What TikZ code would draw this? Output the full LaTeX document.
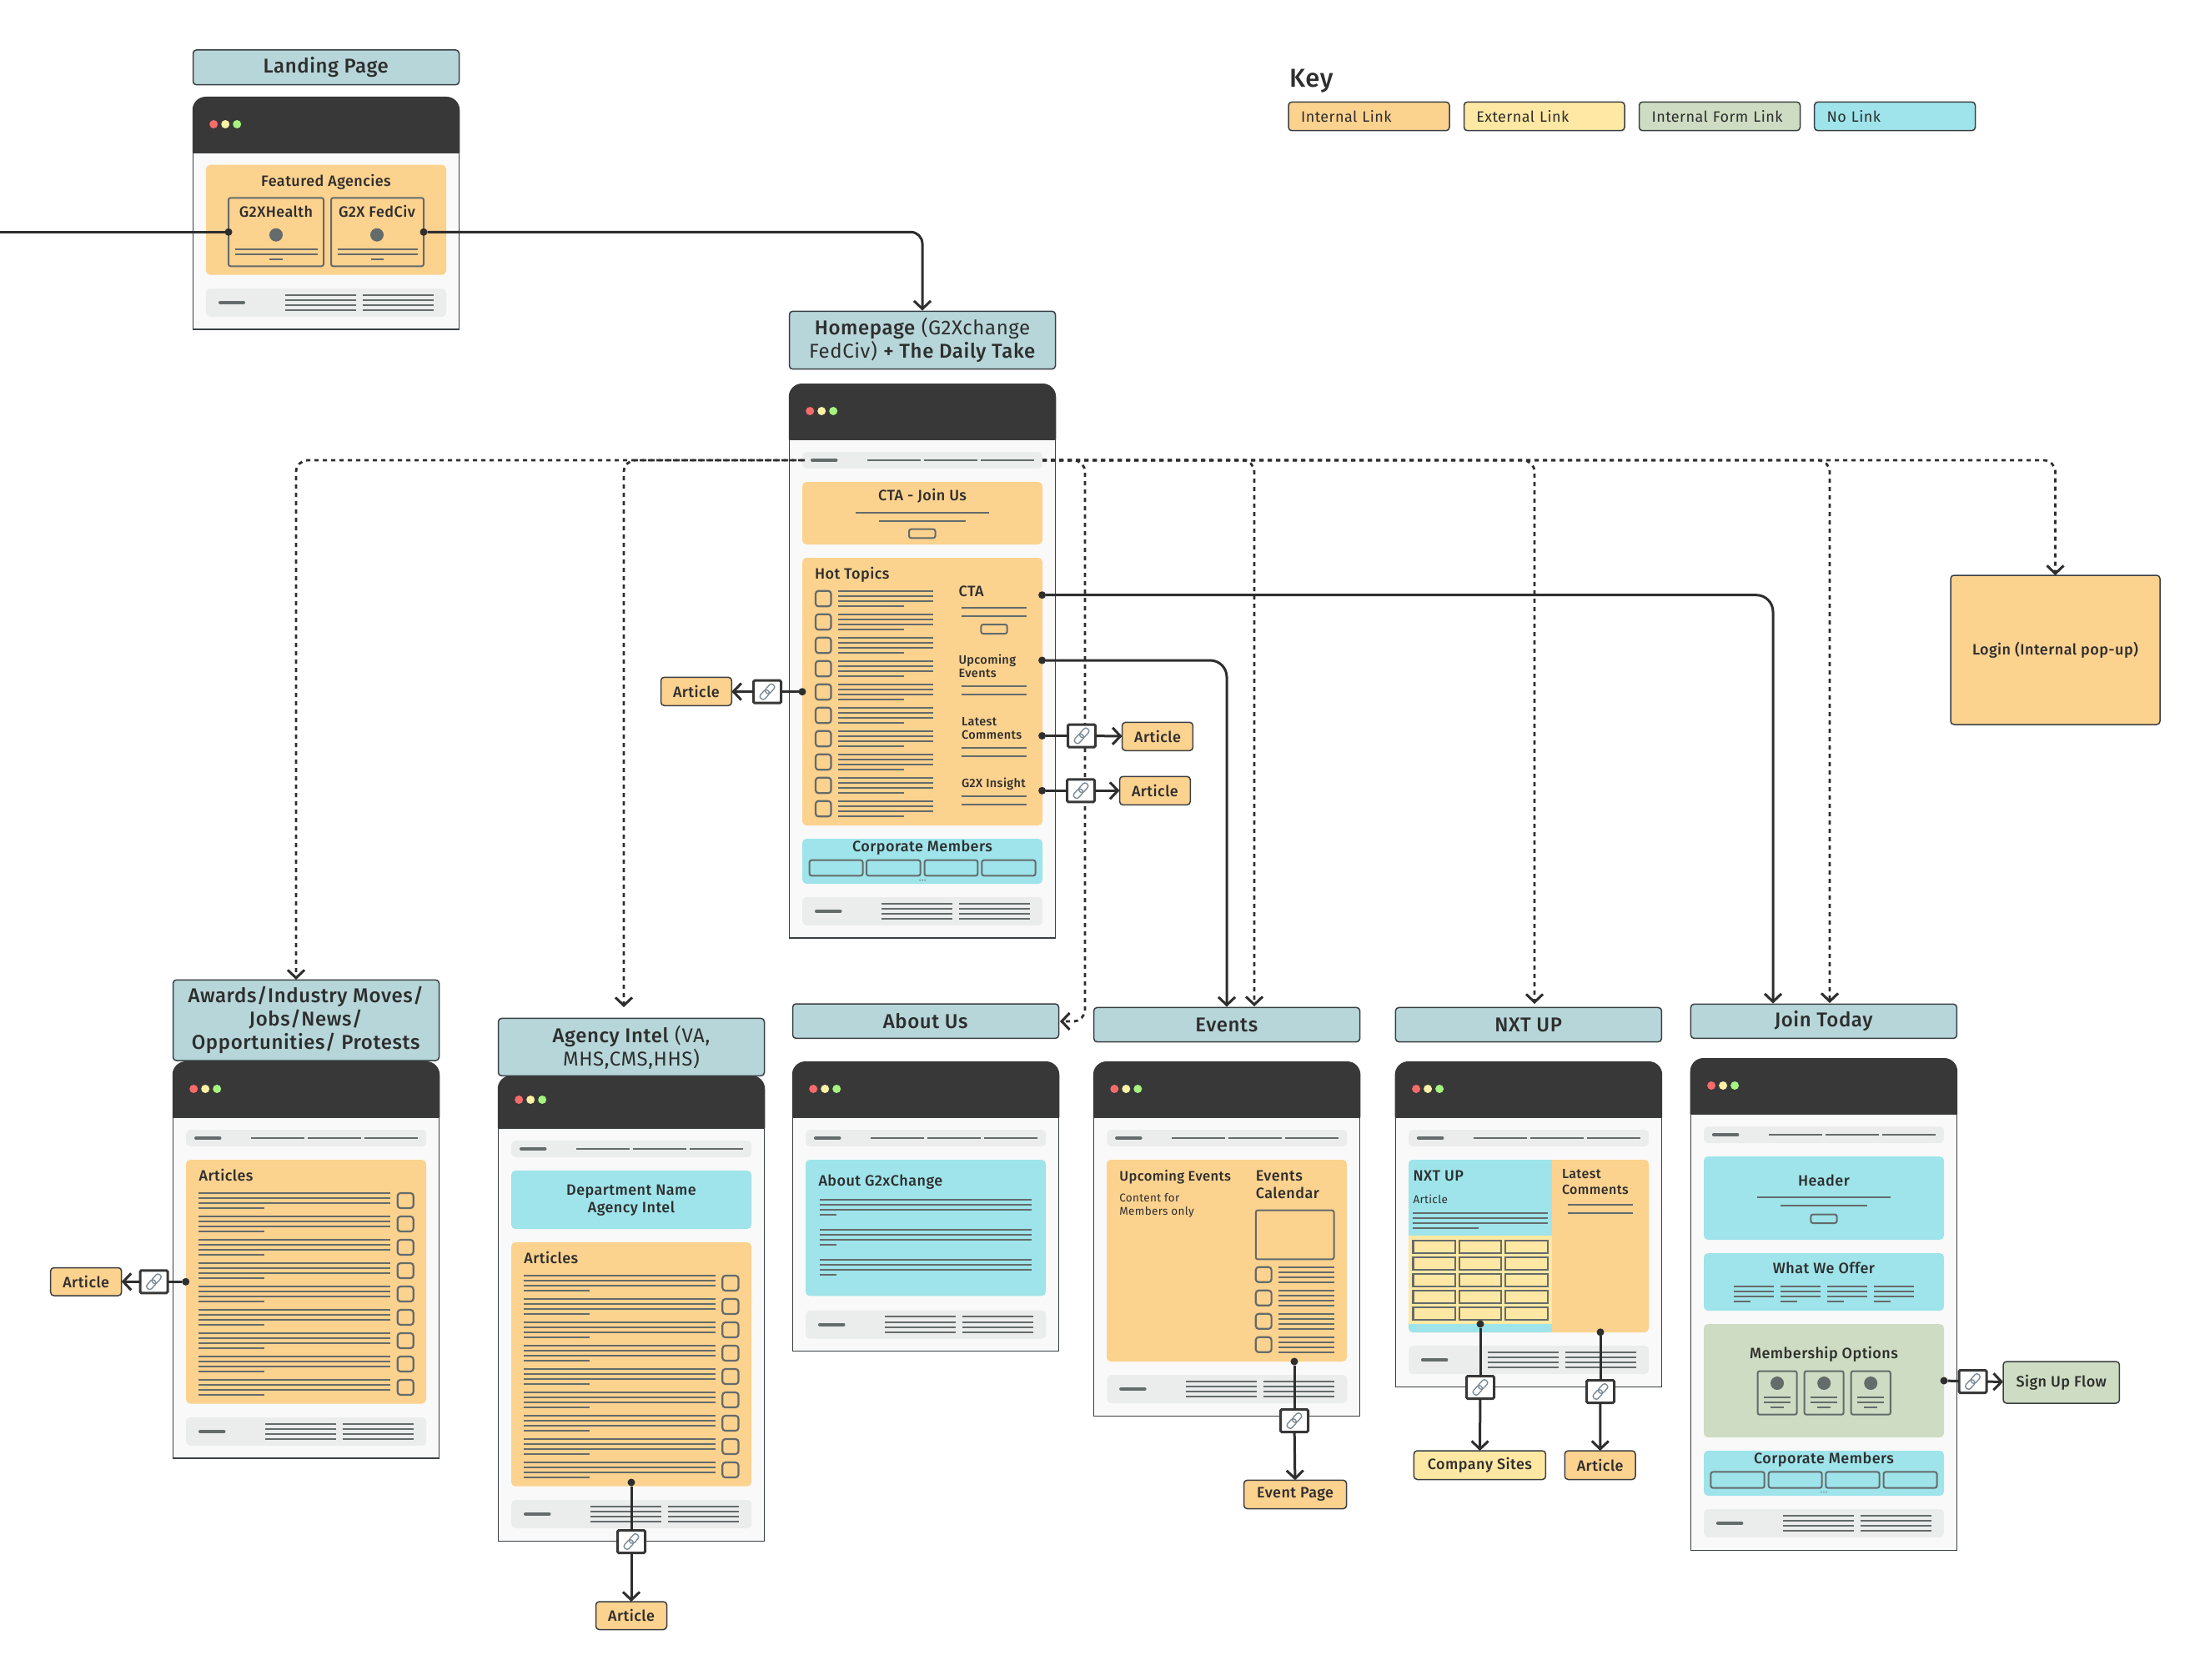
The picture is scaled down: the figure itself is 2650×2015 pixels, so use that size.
\documentclass[tikz,border=0pt]{standalone}
\usepackage{fontspec}
\setmainfont{Fira Sans}[BoldFont={Fira Sans Medium},LetterSpace=2.5]
\usetikzlibrary{arrows.meta}
\definecolor{teal}{HTML}{B7D6D9}
\definecolor{orng}{HTML}{FCD28F}
\definecolor{yelw}{HTML}{FFE8A3}
\definecolor{grn}{HTML}{CDDCC2}
\definecolor{cyn}{HTML}{9EE4EA}
\definecolor{drk}{HTML}{383838}
\definecolor{bod}{HTML}{F9F9F9}
\definecolor{nav}{HTML}{EBEDEC}
\definecolor{lgr}{HTML}{646B6B}
\definecolor{txt}{HTML}{2E2E2E}
\definecolor{dotr}{HTML}{F96B6B}
\definecolor{doty}{HTML}{FCF0A6}
\definecolor{dotg}{HTML}{A6F47F}
\definecolor{edge}{HTML}{3A3F42}
\definecolor{chain}{HTML}{7C8B95}
\tikzset{
  bxb/.style={draw=edge,line width=1.5pt,rounded corners=4pt,inner sep=0pt,outer sep=0pt,text=txt,align=center},
  tbox/.style={bxb,fill=teal,font=\fontsize{24}{28}\selectfont},
  abox/.style={bxb,fill=orng,font=\fontsize{18}{20}\selectfont\bfseries},
  ybox/.style={bxb,fill=yelw,font=\fontsize{18}{20}\selectfont\bfseries},
  gbox/.style={bxb,fill=grn,font=\fontsize{18}{20}\selectfont\bfseries},
  cbox/.style={bxb,fill=cyn,font=\fontsize{18}{20}\selectfont\bfseries},
  keytext/.style={text width=163pt,align=left,font=\fontsize{18}{20}\selectfont},
  glin/.style={draw=lgr,line width=2pt},
  gbox2/.style={draw=lgr,line width=2pt,rounded corners=2.5pt},
  cbk/.style={draw=lgr,line width=2.2pt,rounded corners=3.5pt},
  lb/.style={inner sep=0pt,outer sep=0pt,text=txt,font=\fontsize{18}{20}\selectfont\bfseries,text height=1em,text depth=0em},
  lbsm/.style={lb,font=\fontsize{13.5}{18}\selectfont},
  lbxs/.style={lb,font=\fontsize{14.5}{18}\selectfont\bfseries},
  lbm/.style={lb,font=\fontsize{16}{18}\selectfont\bfseries},
  dotn/.style={circle,fill=txt,inner sep=0pt,outer sep=0pt,minimum size=9pt},
  conn/.style={draw=txt,line width=3pt},
  barb/.style={-{Straight Barb[length=9.5pt,width=20pt,line width=3pt]}},
  arr/.style={conn,barb},
  dlink/.style={draw=txt,line width=2.8pt,dash pattern=on 5pt off 5pt,rounded corners=14pt,barb},
  linkbox/.style={draw=drk,fill=white,line width=3pt,rounded corners=1.5pt,inner sep=0pt,outer sep=0pt,minimum width=33pt,minimum height=27pt,
    path picture={\begin{scope}[shift={(path picture bounding box.center)},x={(0.67pt,0.74pt)},y={(-0.74pt,0.67pt)}]
      \draw[chain,line width=1.4pt,rounded corners=3pt] (-11,-3.6) -- (1.6,-3.6) -- (1.6,3.6) -- (-11,3.6) -- cycle;
      \draw[chain,line width=1.4pt,rounded corners=3pt] (-1.6,-3.6) -- (11,-3.6) -- (11,3.6) -- (-1.6,3.6) -- cycle;
      \end{scope}}},
}
\newcounter{lblc}
\newcommand{\bx}[7]{%
  \pgfmathsetmacro\cxx{(#3+#5)/2}\pgfmathsetmacro\cyy{(#4+#6)/2}%
  \pgfmathsetmacro\www{#5-#3}\pgfmathsetmacro\hhh{#6-#4}%
  \node[#2,minimum width=\www pt,minimum height=\hhh pt] (#1) at (\cxx,\cyy) {#7};}
\newcommand{\lbl}[5]{\stepcounter{lblc}\node[#4,anchor=#3] (t\thelblc) at (#1,#2) {#5};}
\newcommand{\panel}[5]{\fill[#1,rounded corners=5pt] (#2,#3) rectangle (#4,#5);}
\newcommand{\hl}[3]{\draw[glin] (#1,#3) -- (#2,#3);}
\newcommand{\browser}[4]{%
  \pgfmathsetmacro\rx{#1+319}\pgfmathsetmacro\dyy{#3-34}%
  \pgfmathsetmacro\da{#1+24.7}\pgfmathsetmacro\db{#1+38.7}\pgfmathsetmacro\dc{#1+52.7}%
  \draw[edge,fill=bod,line width=1.5pt] (#1,#3) rectangle (\rx,#4);
  \fill[drk] (#1-.75,#3) [rounded corners=16pt] -- (#1-.75,#2) -- (\rx+.75,#2) [sharp corners] -- (\rx+.75,#3) -- cycle;
  \fill[dotr] (\da,\dyy) circle (5pt);
  \fill[doty] (\db,\dyy) circle (5pt);
  \fill[dotg] (\dc,\dyy) circle (5pt);}
\newcommand{\navbar}[2]{%
  \begin{scope}[shift={(#1,#2)}]
  \fill[nav,rounded corners=5pt] (15.7,0) rectangle (303.7,20);
  \draw[lgr,line width=4pt,line cap=round] (27.5,10) -- (56,10);
  \hl{93.7}{157.7}{10}\hl{161.7}{225.7}{10}\hl{229.7}{293.7}{10}
  \end{scope}}
\newcommand{\footbar}[2]{%
  \begin{scope}[shift={(#1,#2)}]
  \fill[nav,rounded corners=5pt] (15.7,0) rectangle (303.7,34);
  \draw[lgr,line width=4pt,line cap=round] (32.5,17) -- (61,17);
  \foreach \q in {7.7,13.9,20,26.2}{\hl{110.7}{195.7}{\q}\hl{203.7}{288.7}{\q}}
  \end{scope}}
% four-line paragraph: x1 x2 xshort y
\newcommand{\para}[4]{%
  \pgfmathsetmacro\ya{#4+6}\pgfmathsetmacro\yb{#4+12}\pgfmathsetmacro\yc{#4+18}%
  \hl{#1}{#2}{#4}\hl{#1}{#2}{\ya}\hl{#1}{#2}{\yb}\hl{#1}{#3}{\yc}}
\newcommand{\dupe}[4]{%
  \pgfmathsetmacro\ya{#4+6}\pgfmathsetmacro\yb{#4+12}\pgfmathsetmacro\yc{#4+18}%
  \hl{#1}{#2}{#4}\hl{#1}{#2}{\ya}\hl{#1}{#2}{\yb}\hl{#1}{#2}{\yc}}
\begin{document}
\begin{tikzpicture}[x=1pt,y=-1pt]
\useasboundingbox (0,0) rectangle (2650,2015);
\fill[white] (0,0) rectangle (2650,2015);

% ---------- Landing page
\bx{tLand}{tbox}{231.5}{60}{550.5}{101.7}{\textbf{Landing Page}}
\browser{231.5}{116}{183}{395}
\panel{orng}{247}{197.7}{535}{329.7}
\lbl{391}{218}{center}{lb}{Featured Agencies}
\draw[gbox2,fill=orng] (274,237.3) rectangle (388,319.3);
\draw[gbox2,fill=orng] (397,237.3) rectangle (508,319.3);
\lbl{331}{255}{center}{lb}{G2XHealth}
\lbl{452}{255}{center}{lb}{G2X FedCiv}
\fill[lgr] (331,281.7) circle (8pt);
\fill[lgr] (452,281.7) circle (8pt);
\hl{281.6}{381}{298.7}\hl{281.6}{381}{305}\hl{323}{339}{311}
\hl{404.5}{500.5}{298.7}\hl{404.5}{500.5}{305}\hl{444.7}{460}{311}
\fill[nav,rounded corners=5pt] (247,346) rectangle (535,380);
\draw[lgr,line width=4pt,line cap=round] (264,362.7) -- (292,362.7);
\foreach \q in {353.7,360,366,372}{\hl{342}{427}{\q}\hl{435}{520}{\q}}

% ---------- Homepage
\bx{tHome}{tbox}{946.5}{373.3}{1265.5}{442.7}{\textbf{Homepage} (G2Xchange\\FedCiv) \textbf{+ The Daily Take}}
\browser{946.5}{460}{527}{1125}
\navbar{946.5}{542}
\panel{orng}{962}{578}{1250}{653}
\lbl{1106}{595}{center}{lb}{CTA - Join Us}
\hl{1026}{1186}{614.7}\hl{1054}{1158}{624.7}
\draw[gbox2] (1090,634.7) rectangle (1121.5,645.3);
\panel{orng}{962}{669}{1250}{990}
\lbl{977}{689}{west}{lb}{Hot Topics}
\foreach \r in {0,...,9}{
  \pgfmathsetmacro\ry{708.7+28*\r}
  \pgfmathsetmacro\rz{\ry+18.6}
  \draw[cbk] (978,\ry) rectangle (996.5,\rz);
  \para{1005}{1119}{1084}{\ry}
}
\lbl{1149.6}{710}{west}{lb}{CTA}
\hl{1153}{1231}{729.3}\hl{1153}{1231}{739.3}
\draw[gbox2] (1176.4,749) rectangle (1207.7,760);
\lbl{1149.6}{791.7}{west}{lbxs}{Upcoming}
\lbl{1149.6}{807}{west}{lbxs}{Events}
\hl{1153}{1231}{823}\hl{1153}{1231}{833}
\lbl{1153}{865}{west}{lbxs}{Latest}
\lbl{1153}{881}{west}{lbxs}{Comments}
\hl{1153}{1231}{897}\hl{1153}{1231}{907}
\lbl{1153}{939}{west}{lbxs}{G2X Insight}
\hl{1153}{1231}{955}\hl{1153}{1231}{965}
\panel{cyn}{962}{1006}{1250}{1060}
\lbl{1106}{1016.7}{center}{lb}{Corporate Members}
\foreach \a/\b in {970.6/1034.5,1039/1103.7,1108.6/1172.4,1177.3/1241.6}{\draw[gbox2] (\a,1031.7) rectangle (\b,1050.3);}
\foreach \a in {1103,1106,1109}{\fill[lgr] (\a,1055.7) circle (0.8pt);}
\footbar{946.5}{1076}

% ---------- Awards
\browser{207.5}{1273}{1340}{1749}
\bx{tAwa}{tbox}{207.5}{1175.3}{526.5}{1272}{\textbf{Awards/Industry Moves/}\\\textbf{Jobs/News/}\\\textbf{Opportunities/ Protests}}
\navbar{207.5}{1355}
\panel{orng}{223}{1391}{511}{1683.5}
\lbl{238.7}{1411}{west}{lb}{Articles}
\foreach \r in {0,...,8}{
  \pgfmathsetmacro\ry{1431+28*\r}
  \pgfmathsetmacro\rz{\ry+18}
  \para{238}{468}{317}{\ry}
  \draw[cbk] (476.7,\ry) rectangle (495.7,\rz);
}
\footbar{207.5}{1700}

% ---------- Agency Intel
\browser{597.5}{1290}{1353}{1848.7}
\bx{tAge}{tbox}{597.5}{1221.4}{916.5}{1290.3}{\textbf{Agency Intel} (VA,\\MHS,CMS,HHS)}
\navbar{597.5}{1368}
\panel{cyn}{613}{1404}{901}{1474}
\lbl{757}{1428}{center}{lb}{Department Name}
\lbl{757}{1449.7}{center}{lb}{Agency Intel}
\panel{orng}{613}{1490}{901}{1782.7}
\lbl{628.4}{1510}{west}{lb}{Articles}
\foreach \r in {0,...,8}{
  \pgfmathsetmacro\ry{1530+28*\r}
  \pgfmathsetmacro\rz{\ry+18}
  \para{628}{858}{707}{\ry}
  \draw[cbk] (866.3,\ry) rectangle (885.5,\rz);
}
\footbar{597.5}{1799}

% ---------- About Us
\bx{tAbo}{tbox}{950.5}{1204}{1269.5}{1245.4}{\textbf{About Us}}
\browser{950.5}{1273}{1340}{1620.5}
\navbar{950.5}{1355}
\panel{cyn}{966}{1391}{1254}{1554.4}
\lbl{981.5}{1417}{west}{lb}{About G2xChange}
\para{983}{1237}{1003}{1439}
\para{983}{1237}{1003}{1475}
\para{983}{1237}{1003}{1511}
\footbar{950.5}{1571.7}

% ---------- Events
\bx{tEve}{tbox}{1311.6}{1208.4}{1630.6}{1249.6}{\textbf{Events}}
\browser{1311.6}{1273}{1340}{1698.6}
\navbar{1311.6}{1355}
\panel{orng}{1327}{1391}{1615}{1633}
\lbl{1342.3}{1411}{west}{lb,font=\fontsize{16.5}{18}\selectfont\bfseries}{Upcoming Events}
\lbl{1342.3}{1436.5}{west}{lbsm}{Content for}
\lbl{1342.3}{1452.4}{west}{lbsm}{Members only}
\lbl{1505.8}{1411}{west}{lb}{Events}
\lbl{1505.8}{1432.4}{west}{lb}{Calendar}
\draw[gbox2] (1505.8,1451.6) rectangle (1599.5,1510.4);
\foreach \r in {0,...,3}{
  \pgfmathsetmacro\ry{1519.8+28*\r}
  \pgfmathsetmacro\rz{\ry+18}
  \draw[cbk] (1505.8,\ry) rectangle (1524.6,\rz);
  \dupe{1533}{1600}{1600}{\ry}
}
\footbar{1311.6}{1649}

% ---------- NXT UP
\bx{tNxt}{tbox}{1673.4}{1208.4}{1992.4}{1249.6}{\textbf{NXT UP}}
\browser{1673.4}{1273}{1340}{1663.5}
\navbar{1673.4}{1355}
\panel{orng}{1689}{1391}{1977}{1598}
\panel{cyn}{1689}{1391}{1861}{1598}
\fill[cyn] (1800,1391) rectangle (1861,1598);
\fill[orng] (1861,1391) rectangle (1870,1598);
\fill[yelw] (1689,1482) rectangle (1861,1588);
\lbl{1694.5}{1411}{west}{lb}{NXT UP}
\lbl{1694.5}{1438.6}{west}{lbsm}{Article}
\para{1694}{1856}{1773}{1455}
\foreach \r in {0,...,4}{
  \pgfmathsetmacro\ry{1488+20*\r}
  \pgfmathsetmacro\rz{\ry+14.7}
  \foreach \a/\b in {1694.5/1745,1749.6/1800,1805/1855.7}{\draw[lgr,line width=2.2pt] (\a,\ry) rectangle (\b,\rz);}
}
\lbl{1873}{1408}{west}{lbm}{Latest}
\lbl{1873}{1427}{west}{lbm}{Comments}
\hl{1880}{1958}{1444.7}\hl{1880}{1958}{1455.3}
\footbar{1673.4}{1614}

% ---------- Join Today
\bx{tJoi}{tbox}{2027.4}{1204.3}{2346.4}{1245.4}{\textbf{Join Today}}
\browser{2027.4}{1269}{1336}{1859.6}
\navbar{2027.4}{1351}
\panel{cyn}{2043}{1387}{2331}{1487}
\lbl{2187}{1417}{center}{lb}{Header}
\hl{2107}{2267}{1436}\hl{2135}{2239}{1446}
\draw[gbox2] (2171.4,1456.5) rectangle (2202.5,1467);
\panel{cyn}{2043}{1503}{2331}{1572}
\lbl{2187}{1522.6}{center}{lb}{What We Offer}
\foreach \a in {2079,2135,2191,2247}{
  \pgfmathsetmacro\ab{\a+48}\pgfmathsetmacro\ac{\a+20}
  \hl{\a}{\ab}{1542.7}\hl{\a}{\ab}{1549}\hl{\a}{\ab}{1554.7}\hl{\a}{\ac}{1561}
}
\panel{grn}{2043}{1588}{2331}{1724}
\lbl{2187}{1624}{center}{lb}{Membership Options}
\foreach \a/\b in {2107.5/2154.6,2163.6/2210.7,2219.6/2266.8}{
  \pgfmathsetmacro\cc{(\a+\b)/2}\pgfmathsetmacro\la{\cc-16}\pgfmathsetmacro\lb{\cc+16}\pgfmathsetmacro\sa{\cc-8}\pgfmathsetmacro\sb{\cc+8}
  \draw[gbox2] (\a,1644.5) rectangle (\b,1696.7);
  \fill[lgr] (\cc,1659) circle (8pt);
  \hl{\la}{\lb}{1676}\hl{\la}{\lb}{1682.4}\hl{\sa}{\sb}{1688}
}
\panel{cyn}{2043}{1740}{2331}{1794}
\lbl{2187}{1750}{center}{lb}{Corporate Members}
\foreach \a/\b in {2051.4/2115.7,2120.7/2184.6,2189.3/2253.6,2258.6/2322.5}{\draw[gbox2] (\a,1765.4) rectangle (\b,1784.6);}
\foreach \a in {2184,2187,2190}{\fill[lgr] (\a,1789.6) circle (0.8pt);}
\footbar{2027.4}{1810}

% ---------- Key
\lbl{1546}{100}{west}{lb,font=\fontsize{31}{32}\selectfont\bfseries}{Key}
\bx{kA}{bxb,fill=orng,keytext}{1545}{122.3}{1738}{156.7}{Internal Link}
\bx{kB}{bxb,fill=yelw,keytext}{1755.5}{122.3}{1948}{156.7}{External Link}
\bx{kC}{bxb,fill=grn,keytext}{1965.5}{122.3}{2158.5}{156.7}{Internal Form Link}
\bx{kD}{bxb,fill=cyn,keytext}{2175.7}{122.3}{2368.5}{156.7}{No Link}

% ---------- Login
\bx{login}{abox}{2339}{690}{2590}{869}{Login (Internal pop-up)}

% ---------- dashed navigation links
\coordinate (hubL) at (962,552);
\coordinate (hubLb) at (965,552);
\coordinate (hubR) at (1250,552);
\coordinate (toAwa) at (355,1175);
\coordinate (toAge) at (748,1208);
\coordinate (toAbo) at (1271,1225);
\coordinate (toAboC) at (1301,1225);
\coordinate (toEve) at (1504,1207);
\coordinate (toNxt) at (1840,1204);
\coordinate (toJoi) at (2194,1203);
\draw[dlink] (hubL) -| (toAwa);
\draw[dlink] (hubLb) -| (toAge);
\draw[dlink] (hubR) -| (toAboC) -- (toAbo);
\draw[dlink] (hubR) -| (toEve);
\draw[dlink] (hubR) -| (toNxt);
\draw[dlink] (hubR) -| (toJoi);
\draw[dlink] (hubR) -| (login.north);

% ---------- dots, link boxes, targets
\node[dotn] (dLandL) at (274,278.3) {};
\node[dotn] (dLandR) at (508,278.3) {};
\coordinate (offL) at (0,278.3);
\coordinate (toHome) at (1106,372.5);
\draw[conn] (offL) -- (dLandL);
\draw[conn,rounded corners=14pt,barb] (dLandR) -| (toHome);

\node[dotn] (dCta) at (1249.6,713.7) {};
\node[dotn] (dUpc) at (1249.6,792) {};
\coordinate (toJoi2) at (2126,1203.5);
\coordinate (toEve2) at (1471,1207.5);
\draw[conn,rounded corners=20pt,barb] (dCta) -| (toJoi2);
\draw[conn,rounded corners=20pt,barb] (dUpc) -| (toEve2);

\node[dotn] (dHot) at (962,829.7) {};
\node[linkbox] (lHot) at (920,829.7) {};
\bx{aHot}{abox}{792.5}{812.3}{877.3}{846.3}{Article}
\draw[conn] (dHot) -- (lHot);
\draw[arr] (lHot) -- (aHot);

\node[dotn] (dLat) at (1249.6,882.5) {};
\node[linkbox] (lLat) at (1297,882.5) {};
\bx{aLat}{abox}{1345.6}{866.3}{1430.4}{900.3}{Article}
\draw[conn] (dLat) -- (lLat);
\draw[arr] (lLat) -- (aLat);

\node[dotn] (dIns) at (1249.6,948.3) {};
\node[linkbox] (lIns) at (1296,948.3) {};
\bx{aIns}{abox}{1342.5}{931.3}{1427.3}{965.3}{Article}
\draw[conn] (dIns) -- (lIns);
\draw[arr] (lIns) -- (aIns);

\node[dotn] (dAwa) at (222.7,1537.3) {};
\node[linkbox] (lAwa) at (184.5,1537.3) {};
\bx{aAwa}{abox}{60.7}{1520.5}{145.7}{1554}{Article}
\draw[conn] (dAwa) -- (lAwa);
\draw[arr] (lAwa) -- (aAwa);

\node[dotn] (dAge) at (757,1778) {};
\node[linkbox] (lAge) at (757,1849) {};
\bx{aAge}{abox}{714.5}{1921}{799.5}{1954.5}{Article}
\draw[conn] (dAge) -- (lAge);
\draw[arr] (lAge) -- (aAge);

\node[dotn] (dEve) at (1552,1633) {};
\node[linkbox] (lEve) at (1552,1704) {};
\bx{aEve}{abox}{1491.6}{1775.3}{1614.6}{1809.6}{Event Page}
\draw[conn] (dEve) -- (lEve);
\draw[arr] (lEve) -- (aEve);

\node[dotn] (dCom) at (1775,1588) {};
\node[linkbox] (lCom) at (1775,1664) {};
\bx{aCom}{ybox}{1695.4}{1740}{1853.4}{1774.5}{Company Sites}
\draw[conn] (dCom) -- (lCom);
\draw[arr] (lCom) -- (aCom);

\node[dotn] (dNxt) at (1919,1597.8) {};
\node[linkbox] (lNxt) at (1919,1669) {};
\bx{aNxt}{abox}{1876.3}{1740}{1961}{1774.5}{Article}
\draw[conn] (dNxt) -- (lNxt);
\draw[arr] (lNxt) -- (aNxt);

\node[dotn] (dSig) at (2331,1656) {};
\node[linkbox] (lSig) at (2365.5,1657) {};
\bx{aSig}{gbox}{2402}{1633}{2541.4}{1683}{Sign Up Flow}
\draw[conn] (dSig) -- (lSig);
\draw[arr] (lSig) -- (aSig);
\end{tikzpicture}
\end{document}
